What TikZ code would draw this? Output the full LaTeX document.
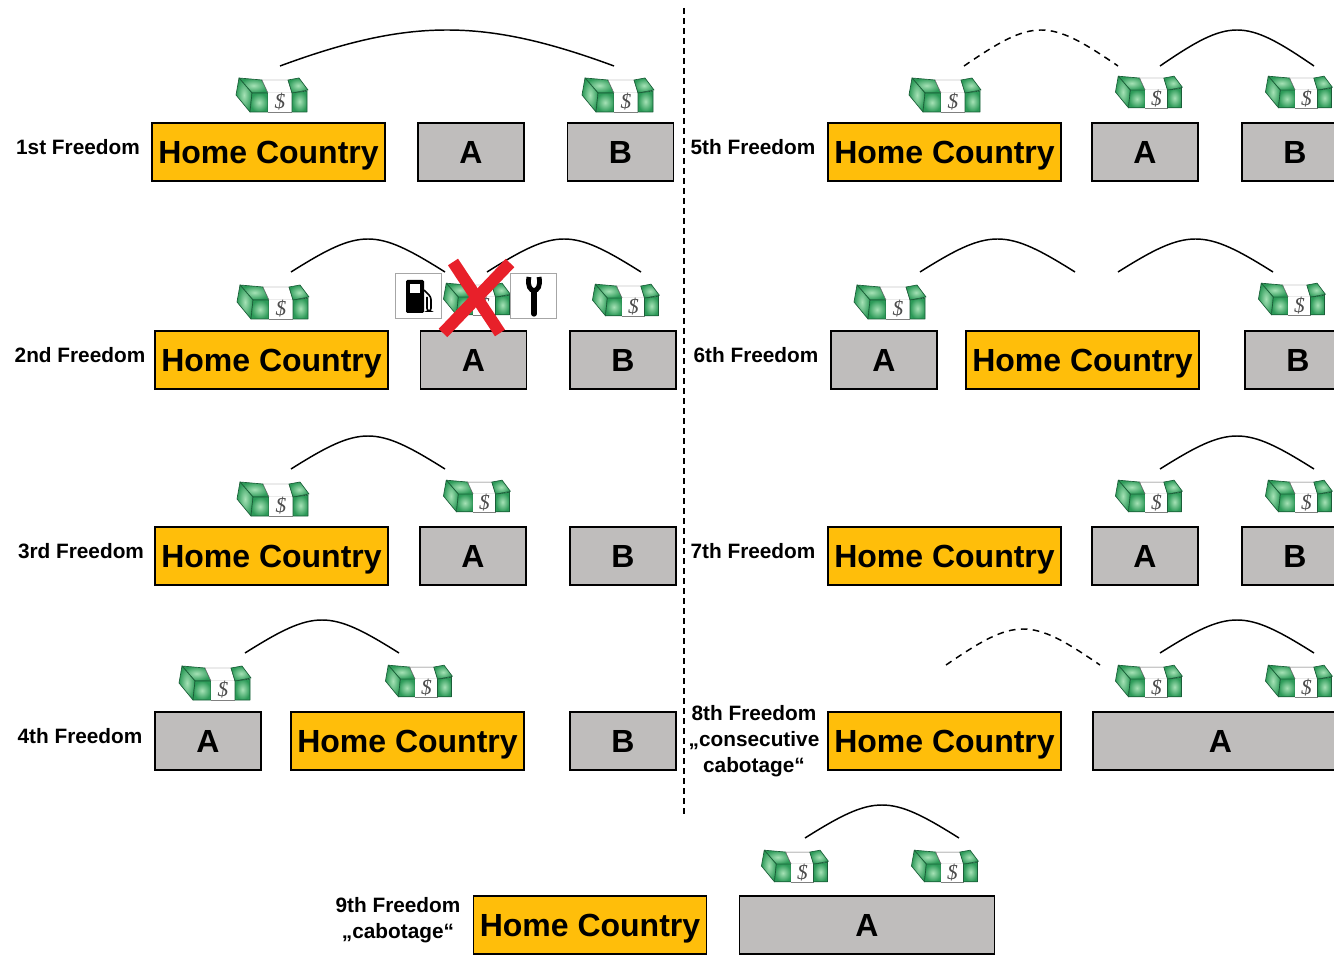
\documentclass[tikz,border=0pt]{standalone}
\usepackage{fontspec}
\setmainfont{Liberation Sans}
\newfontfamily\dollarfont{Liberation Serif}
\definecolor{homegold}{HTML}{FFBE0A}
\definecolor{boxgray}{HTML}{BFBDBC}
\definecolor{billgreen}{HTML}{2C9A58}
\definecolor{billlight}{HTML}{A6E2B6}
\definecolor{billdark}{HTML}{1A5E38}
\definecolor{crossred}{HTML}{E8202A}

\tikzset{
  homebox/.style = {draw, line width=1pt, fill=homegold, inner sep=0pt, text height=17.2pt, text depth=0pt,
    minimum width=174.75pt, minimum height=43.5pt, font=\fontsize{24}{24}\selectfont\bfseries},
  shortbox/.style = {draw, line width=1pt, fill=boxgray, inner sep=0pt, text height=17.2pt, text depth=0pt,
    minimum width=79.5pt, minimum height=43.5pt, font=\fontsize{24}{24}\selectfont\bfseries},
  longbox/.style = {shortbox, minimum width=191.25pt},
  freelabel/.style = {align=center, inner sep=0pt, font=\fontsize{15.6}{19.5}\selectfont\bfseries},
  hump/.style = {line width=1.1pt, to path={.. controls +(70,-44) and +(-70,-44) .. (\tikztotarget)}},
  tallhump/.style = {line width=1.1pt, to path={.. controls +(70,-48) and +(-70,-48) .. (\tikztotarget)}},
  widehump/.style = {line width=1.1pt, to path={.. controls +(130,-48) and +(-130,-48) .. (\tikztotarget)}},
  dashedhump/.style = {tallhump, dash pattern=on 5pt off 4pt},
  iconbox/.style = {draw=black!35, line width=.6pt, fill=white, inner sep=0pt, minimum size=34pt},
  crossline/.style = {crossred, line width=9pt},
  billface/.style = {inner color=billlight, outer color=billgreen, draw=billdark, line width=.5pt, line join=round},
  money/.pic = {
    \path[billface] (-32,-17) -- (-9,-15) -- (-3,-2) -- (-19,-2) -- cycle;
    \path[billface] (-32,-17) -- (-35,0) -- (-21,17) -- (-19,-2) -- cycle;
    \path[billface] (-19,-2) -- (-3,-2) -- (-3,17) -- (-21,17) -- cycle;
    \filldraw[fill=white, draw=black!60, line width=.3pt] (-9,-15) -- (17,-15) -- (21,-2) -- (-3,-2) -- cycle;
    \fill[white] (-3,-2) rectangle (21,17);
    \draw[black!50, line width=.3pt] (-3,17) -- (21,17);
    \path[billface] (17,-15) -- (28,-17) -- (37,-5) -- (21,-2) -- cycle;
    \path[billface] (21,-2) -- (36,-4) -- (36,17) -- (21,17) -- cycle;
    \node[inner sep=0pt, text=black!70, font=\dollarfont\fontsize{16}{16}\selectfont\itshape] (-dollar) at (9,7) {\$};
  }
}

\begin{document}
\begin{tikzpicture}[x=.75pt, y=-.75pt]
  \clip (0,0) rectangle (1334,955);
  \fill[white] (0,0) rectangle (1334,955);

  % first column
  \node[freelabel] (l1) at (78,147) {1st Freedom};
  \node[homebox] (home1) at (268.5,152) {Home Country};
  \node[shortbox] (a1) at (471,152) {A};
  \node[shortbox] (b1) at (620.5,152) {B};

  \node[freelabel] (l2) at (80,355) {2nd Freedom};
  \node[homebox] (home2) at (271.5,360) {Home Country};
  \node[shortbox] (a2) at (473.5,360) {A};
  \node[shortbox] (b2) at (623,360) {B};

  \node[freelabel] (l3) at (81,551) {3rd Freedom};
  \node[homebox] (home3) at (271.5,556) {Home Country};
  \node[shortbox] (a3) at (473,556) {A};
  \node[shortbox] (b3) at (623,556) {B};

  \node[freelabel] (l4) at (80,736) {4th Freedom};
  \node[shortbox] (a4) at (208,741) {A};
  \node[homebox] (home4) at (407.5,741) {Home Country};
  \node[shortbox] (b4) at (623,741) {B};

  % second column
  \node[freelabel] (l5) at (753,147) {5th Freedom};
  \node[homebox] (home5) at (944.5,152) {Home Country};
  \node[shortbox] (a5) at (1145,152) {A};
  \node[shortbox] (b5) at (1295,152) {B};

  \node[freelabel] (l6) at (756,355) {6th Freedom};
  \node[shortbox] (a6) at (884,360) {A};
  \node[homebox] (home6) at (1082.5,360) {Home Country};
  \node[shortbox] (b6) at (1298,360) {B};

  \node[freelabel] (l7) at (753,551) {7th Freedom};
  \node[homebox] (home7) at (944.5,556) {Home Country};
  \node[shortbox] (a7) at (1145,556) {A};
  \node[shortbox] (b7) at (1295,556) {B};

  \node[freelabel] (l8) at (754,741) {8th Freedom\\„consecutive\\cabotage“};
  \node[homebox] (home8) at (944.5,741) {Home Country};
  \node[longbox] (a8) at (1220.5,741) {A};

  % last row
  \node[freelabel] (l9) at (398,920) {9th Freedom\\„cabotage“};
  \node[homebox] (home9) at (590,925) {Home Country};
  \node[longbox] (a9) at (867,925) {A};

  % money
  \pic (m1a) at (271,95) {money};
  \pic (m1b) at (617,95) {money};
  \pic (m2a) at (272,302) {money};
  \pic[scale=.93] (m2b) at (476,299) {money};
  \pic[scale=.93] (m2c) at (625,300) {money};
  \pic (m3a) at (272,499) {money};
  \pic[scale=.93] (m3b) at (476,496) {money};
  \pic (m4a) at (214,683) {money};
  \pic[scale=.93] (m4b) at (418,681) {money};
  \pic (m5a) at (944,95) {money};
  \pic[scale=.93] (m5b) at (1148,92) {money};
  \pic[scale=.93] (m5c) at (1298,92) {money};
  \pic (m6a) at (889,302) {money};
  \pic[scale=.93] (m6b) at (1291,299) {money};
  \pic[scale=.93] (m7a) at (1148,496) {money};
  \pic[scale=.93] (m7b) at (1298,496) {money};
  \pic[scale=.93] (m8a) at (1148,681) {money};
  \pic[scale=.93] (m8b) at (1298,681) {money};
  \pic[scale=.93] (m9a) at (794,866) {money};
  \pic[scale=.93] (m9b) at (944,866) {money};

  % flights
  \coordinate (s1) at (280,66); \coordinate (e1) at (614,66);
  \draw[widehump] (s1) to (e1);
  \coordinate (s2a) at (291,272); \coordinate (e2a) at (445,272);
  \draw[hump] (s2a) to (e2a);
  \coordinate (s2b) at (487,272); \coordinate (e2b) at (641,272);
  \draw[hump] (s2b) to (e2b);
  \coordinate (s3) at (291,469); \coordinate (e3) at (445,469);
  \draw[hump] (s3) to (e3);
  \coordinate (s4) at (245,653); \coordinate (e4) at (399,653);
  \draw[hump] (s4) to (e4);
  \coordinate (s5a) at (964,66); \coordinate (e5a) at (1118,66);
  \draw[dashedhump] (s5a) to (e5a);
  \coordinate (s5b) at (1160,66); \coordinate (e5b) at (1314,66);
  \draw[tallhump] (s5b) to (e5b);
  \coordinate (s6a) at (920,272); \coordinate (e6a) at (1075,272);
  \draw[hump] (s6a) to (e6a);
  \coordinate (s6b) at (1118,272); \coordinate (e6b) at (1273,272);
  \draw[hump] (s6b) to (e6b);
  \coordinate (s7) at (1160,469); \coordinate (e7) at (1314,469);
  \draw[hump] (s7) to (e7);
  \coordinate (s8a) at (946,665); \coordinate (e8a) at (1100,665);
  \draw[dashedhump] (s8a) to (e8a);
  \coordinate (s8b) at (1160,653); \coordinate (e8b) at (1314,653);
  \draw[hump] (s8b) to (e8b);
  \coordinate (s9) at (805,838); \coordinate (e9) at (959,838);
  \draw[hump] (s9) to (e9);

  % divider
  \coordinate (divtop) at (684,8); \coordinate (divbot) at (684,815);
  \draw[line width=.9pt, dash pattern=on 4.5pt off 3pt] (divtop) -- (divbot);

  % fuel and repair icons
  \node[iconbox] (fuel) at (418.5,296) {};
  \node[iconbox] (tool) at (533.5,296) {};
  \fill[rounded corners=1pt] (406,280) rectangle (424,313);
  \fill[white] (410,284) rectangle (420,293);
  \draw[line width=1.2pt, rounded corners=2pt] (424,290) -- (431,297) -- (431,311) -- (427,311) -- (427,297);
  \draw[line width=4pt, line cap=round] (534,292) -- (534,314);
  \draw[line width=3.6pt] (529,277) .. controls (525,295) and (543,295) .. (539,277);

  % the red cross
  \coordinate (xa) at (453,262); \coordinate (xb) at (500,333);
  \coordinate (xc) at (510,263); \coordinate (xd) at (443,333);
  \draw[crossline] (xa) -- (xb);
  \draw[crossline] (xc) -- (xd);
\end{tikzpicture}
\end{document}
